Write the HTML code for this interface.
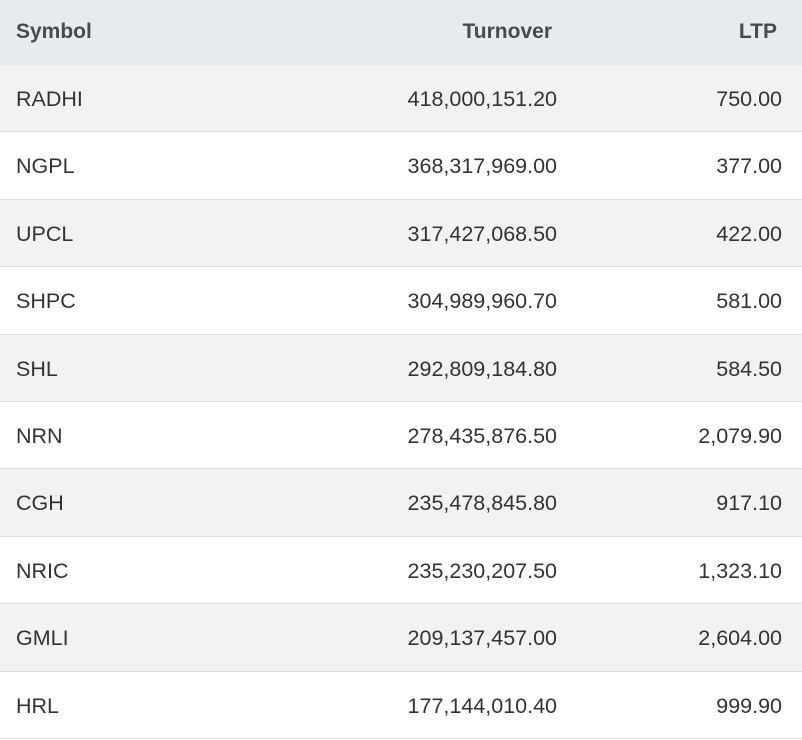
<!DOCTYPE html>
<html><head><meta charset="utf-8"><style>
body{margin:0;width:802px;height:734px;overflow:hidden;background:#fff;font-family:"Liberation Sans",sans-serif;}
.r{position:absolute;left:0;width:802px;border-bottom:1px solid #dedede;box-sizing:border-box;}
.c{position:absolute;top:0;font-size:21.5px;color:#333;}
.h .c{font-weight:bold;color:#4a4a4a;font-size:21px;}
</style></head><body>
<div class="r h" style="top:0;height:66px;background:#e8ebee"><span class="c" style="left:16px;line-height:63px">Symbol</span><span class="c" style="right:250px;line-height:63px">Turnover</span><span class="c" style="right:25px;line-height:63px">LTP</span></div>
<div id="rows"></div>
<script>
var d=[["RADHI","418,000,151.20","750.00"],["NGPL","368,317,969.00","377.00"],["UPCL","317,427,068.50","422.00"],["SHPC","304,989,960.70","581.00"],["SHL","292,809,184.80","584.50"],["NRN","278,435,876.50","2,079.90"],["CGH","235,478,845.80","917.10"],["NRIC","235,230,207.50","1,323.10"],["GMLI","209,137,457.00","2,604.00"],["HRL","177,144,010.40","999.90"]];
var h="";d.forEach(function(r,i){var t=65+i*67.4;h+='<div class="r" style="top:'+t+'px;height:67.4px;background:'+(i%2?'#fff':'#f2f2f2')+'"><span class="c" style="left:16px;line-height:68px">'+r[0]+'</span><span class="c" style="right:245px;line-height:68px">'+r[1]+'</span><span class="c" style="right:20px;line-height:68px">'+r[2]+'</span></div>';});
document.getElementById("rows").innerHTML=h;
</script>
</body></html>
